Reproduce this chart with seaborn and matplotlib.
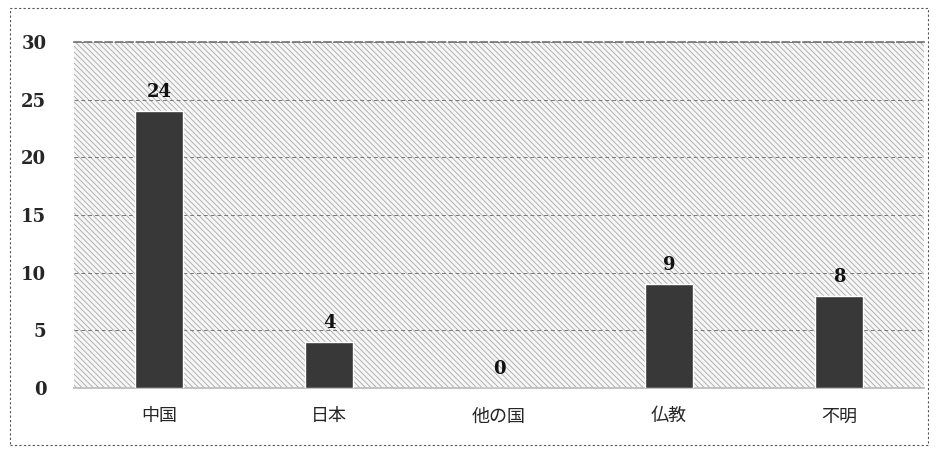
import numpy as np
import pandas as pd
import matplotlib.pyplot as plt
import seaborn as sns
from matplotlib.patches import Rectangle

categories = ['中国', '日本', '他の国', '仏教', '不明']
counts = [24, 4, 0, 9, 8]
yticks = [0, 5, 10, 15, 20, 25, 30]

df = pd.DataFrame({'category': categories, 'count': counts})

sns.set_theme(style="white")
plt.rcParams['font.family'] = ['Noto Sans CJK JP', 'DejaVu Sans']
plt.rcParams['hatch.color'] = '#a8a8a8'
plt.rcParams['hatch.linewidth'] = 0.6

fig = plt.figure(figsize=(9.38, 4.5), dpi=100)
ax = fig.add_axes([0.079, 0.138, 0.906, 0.769])

# hatched background like the scanned original
ax.patch.set_facecolor('#f6f6f6')
ax.patch.set_hatch('\\\\\\\\\\\\')
ax.patch.set_edgecolor('#a8a8a8')

sns.barplot(data=df, x='category', y='count', color='#383838', width=0.28,
            saturation=1, ax=ax, zorder=3)

ax.set_ylim(0, 30)
ax.set_yticks(yticks)
ax.set_yticklabels([str(t) for t in yticks], fontsize=13, fontweight='bold',
                   family=['DejaVu Serif'])
ax.tick_params(axis='x', labelsize=13, pad=14, length=0)
ax.tick_params(axis='y', length=0, pad=20)
ax.set_xlabel('')
ax.set_ylabel('')
ax.grid(axis='y', linestyle=(0, (4, 3)), color='#777777', linewidth=0.7, zorder=1)
ax.set_axisbelow(True)
for s in ax.spines.values():
    s.set_visible(False)
ax.spines['top'].set_visible(True)
ax.spines['top'].set_linestyle((0, (4, 2)))
ax.spines['top'].set_color('#777777')
ax.spines['bottom'].set_visible(True)
ax.spines['bottom'].set_color('#bbbbbb')

for container in ax.containers:
    ax.bar_label(container, fmt='%d', padding=7, fontsize=13, fontweight='bold',
                 family=['DejaVu Serif'], color='#111111')

fig.patches.append(Rectangle((0.011, 0.012), 0.978, 0.97, transform=fig.transFigure,
                             fill=False, linestyle=(0, (2, 2)), edgecolor='#555555',
                             linewidth=0.8))

fig.savefig('out.png', dpi=100, facecolor='white')
